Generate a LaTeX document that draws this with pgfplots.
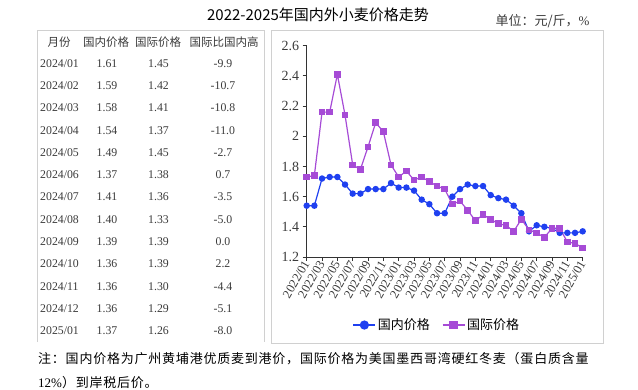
\documentclass[border=0pt]{standalone}
\usepackage{fontspec}
\usepackage{pgfplots}
\usepackage{pgfplotstable}
\pgfplotsset{compat=1.18}
\setmainfont{Liberation Serif}
\newfontfamily\cjk{Noto Sans CJK SC}
\newfontfamily\cjkn[LetterSpace=6]{Noto Sans CJK SC}
\definecolor{dom}{HTML}{1F40F0}
\definecolor{intl}{HTML}{A64BD6}
\definecolor{bord}{HTML}{D0D0D0}
\definecolor{tgray}{HTML}{3A3A3A}
\newcommand{\fs}[1]{\fontsize{#1bp}{#1bp}\selectfont}

\pgfplotstableread{
x d i
0 1.54 1.73
1 1.54 1.74
2 1.72 2.16
3 1.73 2.16
4 1.73 2.41
5 1.68 2.14
6 1.62 1.81
7 1.62 1.78
8 1.65 1.93
9 1.65 2.09
10 1.65 2.03
11 1.69 1.81
12 1.66 1.73
13 1.66 1.77
14 1.64 1.71
15 1.58 1.73
16 1.55 1.70
17 1.49 1.67
18 1.49 1.65
19 1.60 1.55
20 1.65 1.57
21 1.68 1.51
22 1.67 1.44
23 1.67 1.48
24 1.61 1.45
25 1.59 1.42
26 1.58 1.41
27 1.54 1.37
28 1.49 1.45
29 1.37 1.38
30 1.41 1.36
31 1.40 1.33
32 1.39 1.39
33 1.36 1.39
34 1.36 1.30
35 1.36 1.29
36 1.37 1.26
}\prices

\begin{document}
\begin{tikzpicture}
\path[use as bounding box] (0,0) rectangle (638bp,-390bp);
% title and unit
\node[font=\cjk\fs{15}] at (318bp,-15bp) {2022-2025年国内外小麦价格走势};
\node[font=\cjk\fs{13}, anchor=west, text=tgray] at (492bp,-20.7bp) {单位：元/斤，{\rmfamily\%}};
% boxes
\draw[bord, line width=0.8bp] (37.7bp,-342bp) -- (37.7bp,-30bp) -- (264bp,-30bp) -- (264bp,-342bp);
\draw[bord, line width=0.8bp] (271bp,-30bp) rectangle (603bp,-343bp);
% table header
\begin{scope}[every node/.style={font=\cjk\fs{11.5}, text=tgray, inner sep=0pt}]
\node at (59bp,-41.7bp) {月份};
\node at (106bp,-41.7bp) {国内价格};
\node at (158bp,-41.7bp) {国际价格};
\node at (224bp,-41.7bp) {国际比国内高};
\end{scope}
% table rows
\foreach \yr/\mo/\a/\b/\c [count=\i from 0] in {2024/01/1.61/1.45/-9.9, 2024/02/1.59/1.42/-10.7, 2024/03/1.58/1.41/-10.8, 2024/04/1.54/1.37/-11.0, 2024/05/1.49/1.45/-2.7, 2024/06/1.37/1.38/0.7, 2024/07/1.41/1.36/-3.5, 2024/08/1.40/1.33/-5.0, 2024/09/1.39/1.39/0.0, 2024/10/1.36/1.39/2.2, 2024/11/1.36/1.30/-4.4, 2024/12/1.36/1.29/-5.1, 2025/01/1.37/1.26/-8.0}{
  \pgfmathsetmacro\yy{-(63.3+22.3*\i)}
  \node[anchor=west, inner sep=0pt, font=\fs{11.8}, text=tgray] at (40bp,\yy bp) {\yr/\mo};
  \node[inner sep=0pt, font=\fs{11.8}, text=tgray] at (107bp,\yy bp) {\a};
  \node[inner sep=0pt, font=\fs{11.8}, text=tgray] at (158.5bp,\yy bp) {\b};
  \node[inner sep=0pt, font=\fs{11.8}, text=tgray] at (223bp,\yy bp) {\c};
}
% note
\node[anchor=west, inner sep=0pt, font=\cjkn\fs{13}] at (38bp,-359bp) {注：国内价格为广州黄埔港优质麦到港价，国际价格为美国墨西哥湾硬红冬麦（蛋白质含量};
\node[anchor=west, inner sep=0pt, font=\cjkn\fs{13}] at (38bp,-383bp) {{\rmfamily 12\%}）到岸税后价。};

\begin{axis}[
  at={(306.7bp,-257bp)}, anchor=south west,
  scale only axis, width=276bp, height=211.3bp,
  xmin=0, xmax=36, ymin=1.2, ymax=2.6,
  axis x line*=bottom, axis y line*=left,
  axis line style={draw=black!80, line width=0.8bp, -},
  tick style={draw=black!80, line width=0.8bp},
  tick align=outside, major tick length=4bp,
  xtick={0,2,...,36},
  xticklabels={2022/01,2022/03,2022/05,2022/07,2022/09,2022/11,2023/01,2023/03,2023/05,2023/07,2023/09,2023/11,2024/01,2024/03,2024/05,2024/07,2024/09,2024/11,2025/01},
  ytick={1.2,1.4,1.6,1.8,2,2.2,2.4,2.6},
  yticklabels={1.2,1.4,1.6,1.8,2,2.2,2.4,2.6},
  xticklabel style={rotate=60, anchor=east, font=\fs{12.5}, inner sep=0.5bp, text=tgray},
  yticklabel style={font=\fs{14}, text=tgray},
  /pgf/number format/assume math mode=true,
  legend columns=2,
  legend style={draw=none, fill=none, at={(0.472,-0.322)}, anchor=center, font=\cjk\fs{13},
    /tikz/every even column/.append style={column sep=10bp}},
  legend image code/.code={\draw[mark repeat=2, mark phase=2, #1] plot coordinates {(0bp,0bp) (11bp,0bp) (22bp,0bp)};},
  clip=false,
]
\addplot[dom, line width=1.2bp, mark=*, mark size=2.6bp, forget plot] table[x=x, y=d] {\prices};
\addplot[intl, line width=1.2bp, mark=square*, mark size=2.7bp, forget plot] table[x=x, y=i] {\prices};
\addlegendimage{dom, line width=1.2bp, mark=*, mark size=4bp}
\addlegendentry{国内价格}
\addlegendimage{intl, line width=1.2bp, mark=square*, mark size=3.8bp}
\addlegendentry{国际价格}
\end{axis}
\end{tikzpicture}
\end{document}
